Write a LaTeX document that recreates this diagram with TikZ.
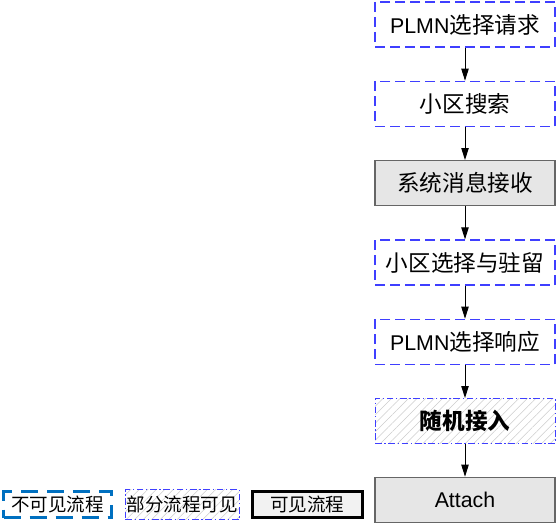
\documentclass[tikz,border=0pt]{standalone}
\usepackage{fontspec}
\setmainfont{Liberation Sans}
\newfontfamily\cjk[Scale=1.06]{Noto Sans CJK SC}
\usepackage{tikz}
\usetikzlibrary{arrows.meta,positioning,patterns.meta}
\definecolor{FlowBlue}{HTML}{3F3FFF}
\definecolor{LegendBlue}{HTML}{0070C0}
\definecolor{StepGray}{HTML}{E6E6E6}
\definecolor{StepEdge}{HTML}{666666}
\definecolor{HatchGray}{HTML}{CCCCCC}
\definecolor{LegendFill}{HTML}{F2F2F2}

\begin{document}
\begin{tikzpicture}[
 node distance=24.85pt,
 flow/.style={minimum width=135pt,minimum height=33.75pt,inner sep=0pt,font=\fontsize{16}{19}\selectfont},
 hidden/.style={flow,draw=FlowBlue,line width=0.9pt,dash pattern=on 7.5pt off 3.75pt},
 partial/.style={draw=FlowBlue,line width=0.6pt,dash pattern=on 5pt off 2pt on 1pt off 2pt,pattern={Lines[angle=45,distance=4.5pt,line width=0.4pt]},pattern color=HatchGray},
 shown/.style={flow,draw=StepEdge,line width=0.9pt,fill=StepGray},
 legend/.style={inner sep=0pt,font=\fontsize{13.1}{16}\selectfont\cjk},
 arrow/.style={-{Triangle[length=9pt,width=5.5pt]},line width=0.75pt}
]
\useasboundingbox (0,0) rectangle (419.25pt,-395.25pt);
\node[hidden] (plmnreq) at (348.75pt,-18.375pt) {PLMN{\cjk 选择请求}};
\node[hidden,below=of plmnreq] (search) {\cjk 小区搜索};
\node[shown,below=of search] (sib) {\cjk 系统消息接收};
\node[hidden,below=of sib] (camp) {\cjk 小区选择与驻留};
\node[hidden,below=of camp] (plmnresp) {PLMN{\cjk 选择响应}};
\node[flow,partial,below=of plmnresp] (rach) {\cjk\bfseries 随机接入};
\node[shown,below=of rach] (attach) {Attach};
\draw[arrow] (plmnreq)--(search); \draw[arrow] (search)--(sib); \draw[arrow] (sib)--(camp);
\draw[arrow] (camp)--(plmnresp); \draw[arrow] (plmnresp)--(rach); \draw[arrow] (rach)--(attach);
% legend
\node[legend,draw=LegendBlue,line width=2.25pt,dash pattern=on 12.75pt off 6.75pt,minimum width=81pt,minimum height=19.5pt] (lghidden) at (43.125pt,-378.375pt) {不可见流程};
\node[legend,partial,minimum width=85.5pt,minimum height=22.5pt,right=9pt of lghidden] (lgpartial) {部分流程可见};
\node[legend,draw=black,line width=2.25pt,fill=LegendFill,minimum width=82.5pt,minimum height=19.5pt,right=8.25pt of lgpartial] (lgshown) {可见流程};
\end{tikzpicture}
\end{document}
